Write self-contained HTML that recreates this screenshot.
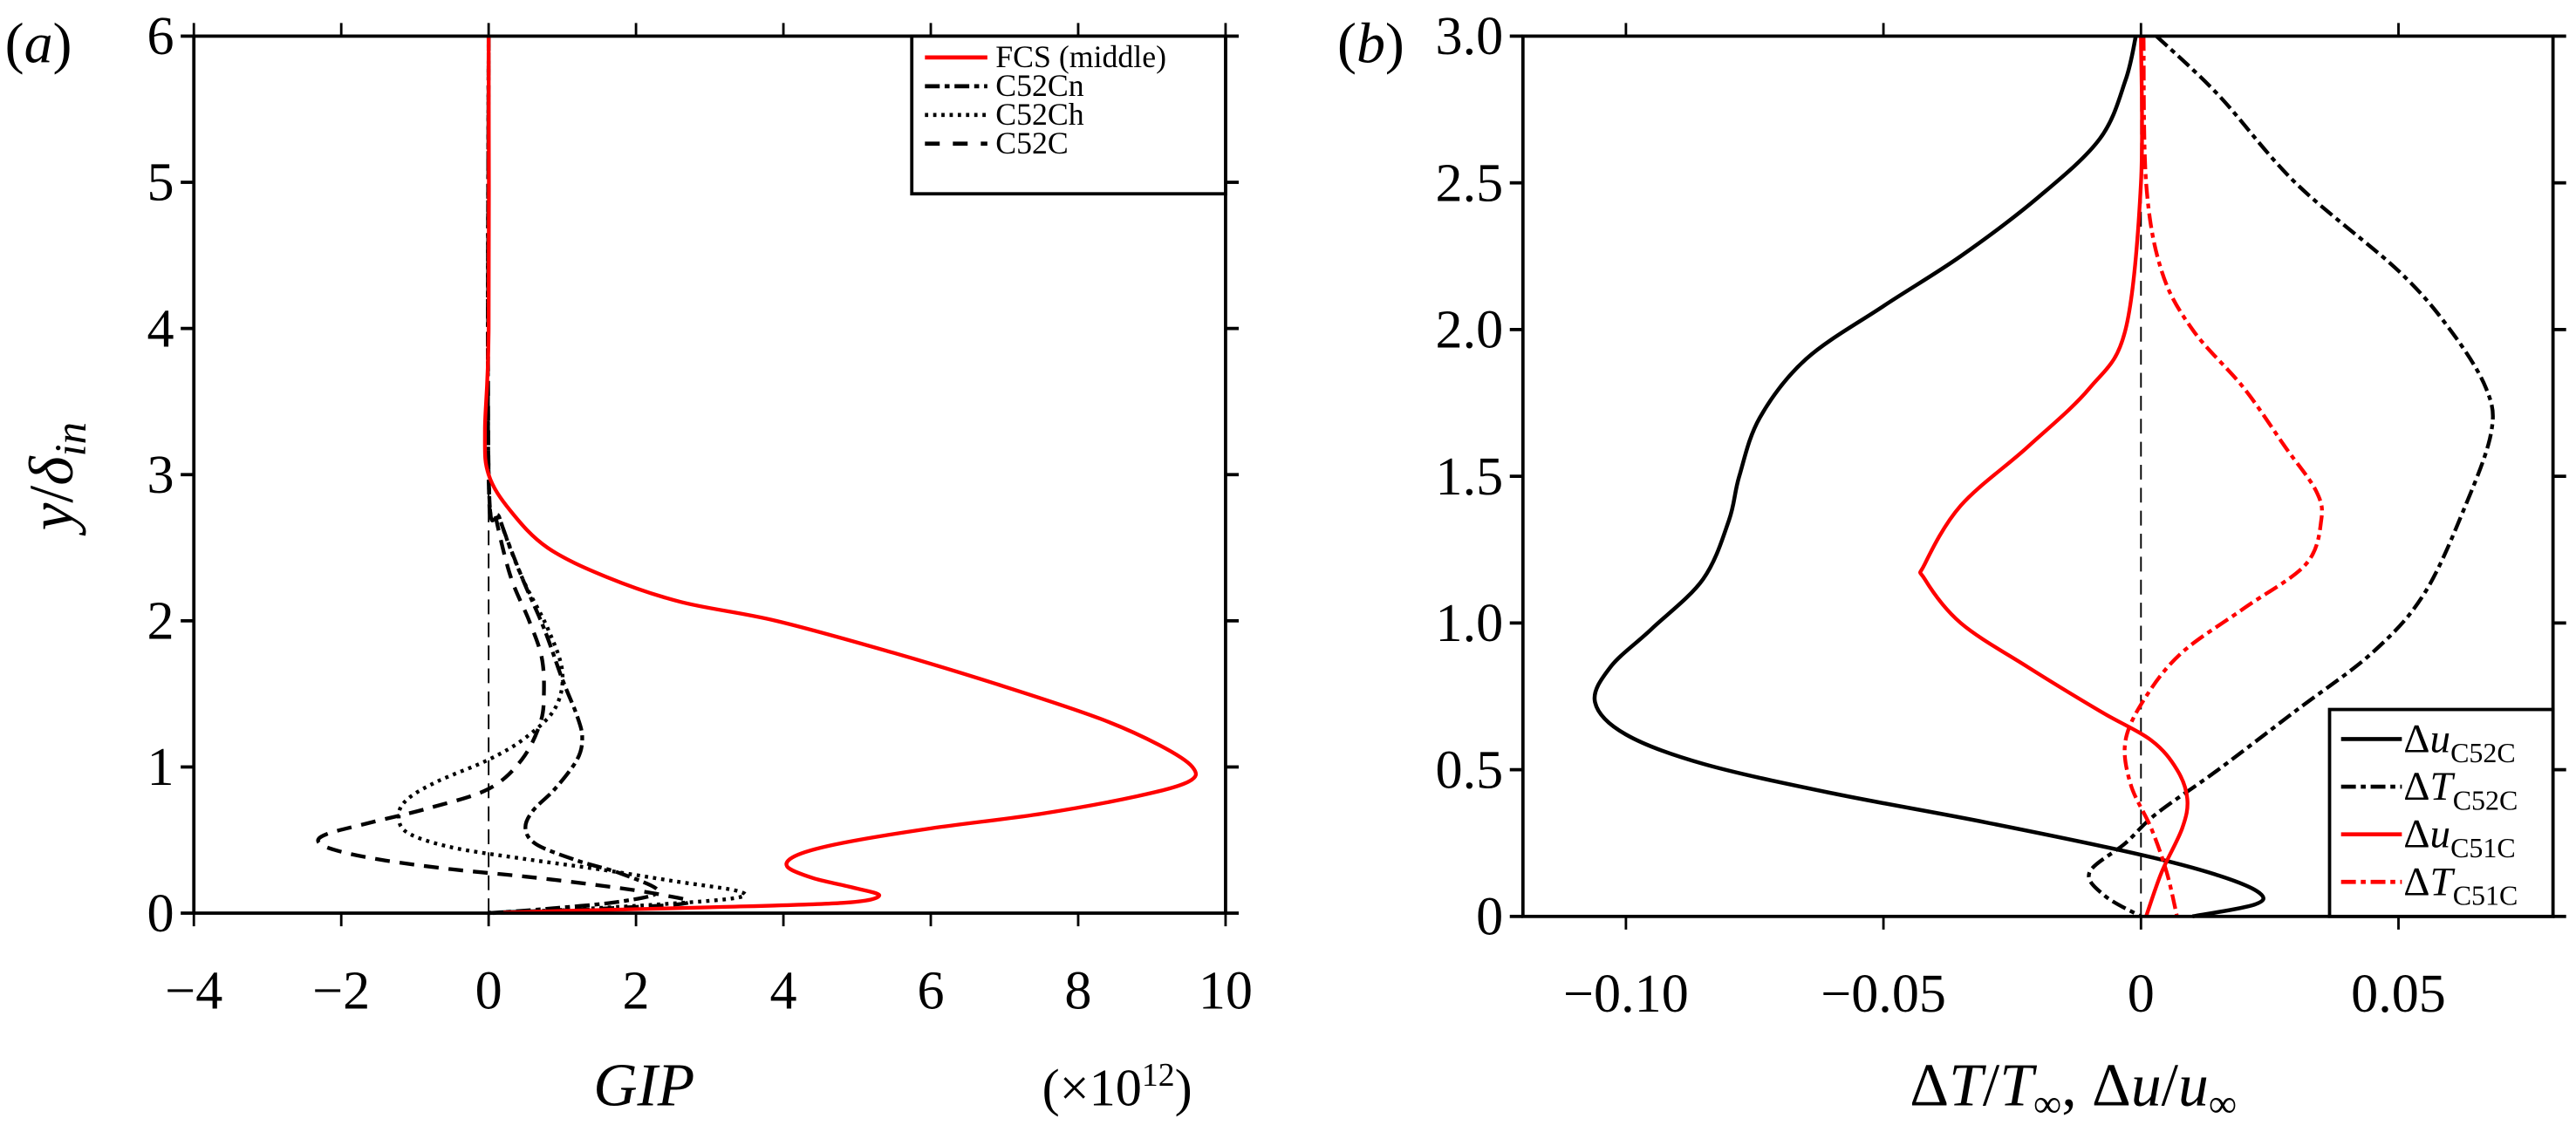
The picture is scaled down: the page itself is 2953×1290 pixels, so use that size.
<!DOCTYPE html>
<html><head><meta charset="utf-8"><style>
html,body{margin:0;padding:0;background:#fff;}
svg{display:block;}
text{font-family:"Liberation Serif",serif;fill:#000;}
</style></head><body>
<svg id="fig" width="2953" height="1290" viewBox="0 0 1568 685" preserveAspectRatio="none" xmlns="http://www.w3.org/2000/svg"></svg>
<script>
// ---------- Panel (a) data: GIP (x1e12) vs y/delta_in ----------
const aXTicks=[-4,-2,0,2,4,6,8,10];
const aYTicks=[0,1,2,3,4,5,6];
const fcsX=[0,0,-0.05,0,0.3,0.8,1.6,2.6,3.9,5.5,7.0,8.3,9.1,9.55,9.5,8.8,7.5,6.0,4.8,4.2,4.05,4.4,4.9,5.3,4.8,3.0,1.0,0.2];
const fcsY=[6,4,3.3,3.0,2.75,2.5,2.3,2.13,2.0,1.78,1.55,1.33,1.15,1.0,0.9,0.8,0.68,0.58,0.48,0.4,0.32,0.24,0.18,0.12,0.07,0.04,0.015,0.003];
const cnX=[0,0,0.15,0.45,0.75,1.0,1.2,1.27,1.2,0.9,0.6,0.5,0.65,1.2,1.8,2.3,1.8,0.8,0];
const cnY=[6,3,2.7,2.3,1.95,1.6,1.35,1.2,1.05,0.85,0.7,0.58,0.47,0.36,0.27,0.15,0.08,0.03,0];
const chX=[0,0,0.15,0.45,0.8,1.0,0.9,0.5,0,-0.7,-1.1,-1.22,-1.1,-0.5,0.5,1.5,2.5,3.39,3.3,2.0,0.5,0];
const chY=[6,3,2.7,2.3,1.95,1.65,1.4,1.2,1.05,0.9,0.78,0.67,0.55,0.45,0.37,0.3,0.22,0.15,0.1,0.05,0.01,0];
const cX=[0,0,0.1,0.3,0.55,0.72,0.75,0.7,0.45,0,-0.8,-1.6,-2.2,-2.3,-2.0,-1.4,-0.5,0.5,1.5,2.3,2.7,1.5,0];
const cY=[6,3,2.7,2.3,2.0,1.75,1.5,1.3,1.05,0.85,0.72,0.62,0.54,0.48,0.42,0.36,0.3,0.25,0.19,0.13,0.07,0.03,0.003];
// ---------- Panel (b) data ----------
const bXTicks=[-0.10,-0.05,0,0.05];
const bXTickLabels=["\u22120.10","\u22120.05","0","0.05"];
const bYTicks=[0,0.5,1.0,1.5,2.0,2.5,3.0];
const bYTickLabels=["0","0.5","1.0","1.5","2.0","2.5","3.0"];
const du52X=[-0.001,-0.003,-0.008,-0.02,-0.035,-0.05,-0.065,-0.074,-0.078,-0.08,-0.085,-0.095,-0.103,-0.106,-0.1,-0.085,-0.06,-0.03,0,0.015,0.023,0.022,0.01];
const du52Y=[3,2.85,2.65,2.45,2.25,2.08,1.9,1.7,1.5,1.35,1.15,0.98,0.85,0.73,0.62,0.52,0.42,0.32,0.21,0.14,0.08,0.04,0];
const dT52X=[0.003,0.015,0.03,0.05,0.06,0.067,0.068,0.063,0.055,0.045,0.03,0.015,0.003,-0.003,-0.01,-0.007,0];
const dT52Y=[3,2.8,2.5,2.2,2.0,1.8,1.65,1.4,1.1,0.9,0.7,0.5,0.35,0.25,0.15,0.07,0];
const du51X=[0,0,-0.003,-0.01,-0.022,-0.035,-0.042,-0.042,-0.035,-0.022,-0.008,0.002,0.007,0.009,0.008,0.004,0.001];
const du51Y=[3,2.5,2.0,1.8,1.6,1.4,1.2,1.15,1.0,0.85,0.7,0.6,0.5,0.4,0.3,0.15,0];
const dT51X=[0.0005,0.001,0.004,0.01,0.02,0.028,0.034,0.035,0.032,0.02,0.008,0.001,-0.003,-0.002,0.002,0.005,0.007];
const dT51Y=[3,2.5,2.2,2.0,1.8,1.6,1.45,1.35,1.2,1.05,0.9,0.75,0.6,0.45,0.3,0.15,0];

const NS="http://www.w3.org/2000/svg";
const svg=document.getElementById('fig');
function el(tag,attrs,parent){const e=document.createElementNS(NS,tag);for(const k in attrs)e.setAttribute(k,attrs[k]);(parent||svg).appendChild(e);return e;}
function lin(d0,d1,r0,r1){return v=>r0+(v-d0)/(d1-d0)*(r1-r0);}
function spline(xs,ys,sx,sy){
  const p=xs.map((x,i)=>[sx(x),sy(ys[i])]);
  let d=`M${p[0][0].toFixed(2)},${p[0][1].toFixed(2)}`;
  for(let i=0;i<p.length-1;i++){
    const p0=p[Math.max(i-1,0)],p1=p[i],p2=p[i+1],p3=p[Math.min(i+2,p.length-1)];
    const c1=[p1[0]+(p2[0]-p0[0])/6,p1[1]+(p2[1]-p0[1])/6];
    const c2=[p2[0]-(p3[0]-p1[0])/6,p2[1]-(p3[1]-p1[1])/6];
    d+=`C${c1[0].toFixed(2)},${c1[1].toFixed(2)} ${c2[0].toFixed(2)},${c2[1].toFixed(2)} ${p2[0].toFixed(2)},${p2[1].toFixed(2)}`;
  }
  return d;
}
function drawAxes(g,L,R,T,B,xt,sx,yt,sy,xl,yl){
  const box=el('rect',{x:L,y:T,width:R-L,height:B-T,fill:'none',stroke:'#000','stroke-width':2},g);
  
  
  xt.forEach((v,i)=>{
    const x=sx(v);
    const t1=el('line',{x1:x,y1:B,x2:x,y2:B+8,stroke:'#000','stroke-width':1.5},g);
    
    
    const t2=el('line',{x1:x,y1:T,x2:x,y2:T-8,stroke:'#000','stroke-width':1.5},g);
    
    
    const tx=el('text',{x:x,y:B+58,'font-size':33,'text-anchor':'middle'},g);
    tx.textContent=xl[i];
    
    
  });
  yt.forEach((v,i)=>{
    const y=sy(v);
    const t1=el('line',{x1:L,y1:y,x2:L-8,y2:y,stroke:'#000','stroke-width':2},g);
    
    
    const t2=el('line',{x1:R,y1:y,x2:R+8,y2:y,stroke:'#000','stroke-width':2},g);
    
    
    const tx=el('text',{x:L-12,y:y+11,'font-size':33,'text-anchor':'end'},g);
    tx.textContent=yl[i];
    
    
  });
}
function curve(g,xs,ys,sx,sy,color,dash,name,w){
  const p=el('path',{d:spline(xs,ys,sx,sy),fill:'none',stroke:color,'stroke-width':w||2.3,'stroke-dasharray':dash||'none','stroke-linejoin':'round'},g);
  
  
}

// ---------- Panel a ----------
const ga=el('g',{});


const aL=118,aR=746,aT=22,aB=556;
const axa=lin(-4,10,aL,aR), aya=lin(0,6,aB,aT);
const zl=el('line',{x1:axa(0),y1:aya(0),x2:axa(0),y2:aya(2.95),stroke:'#000','stroke-width':1,'stroke-dasharray':'9,5'},ga);


curve(ga,cX,cY,axa,aya,'#000','9,6','c52c-curve');
curve(ga,chX,chY,axa,aya,'#000','2,3','c52ch-curve');
curve(ga,cnX,cnY,axa,aya,'#000','9,3,3,3','c52cn-curve');
curve(ga,fcsX,fcsY,axa,aya,'#f00',null,'fcs-middle-curve');
drawAxes(ga,aL,aR,aT,aB,aXTicks,axa,aYTicks,aya,aXTicks.map(v=>v<0?'\u2212'+(-v):String(v)),aYTicks.map(String));
// legend a
const la=el('g',{},ga);


el('rect',{x:555,y:22,width:191,height:96,fill:'#fff',stroke:'#000','stroke-width':2},la);
const legA=[['FCS (middle)','#f00','none'],['C52Cn','#000','9,3,3,3'],['C52Ch','#000','2,3'],['C52C','#000','9,8']];
legA.forEach((e,i)=>{
  const y=35+i*17.5;
  const ln=el('line',{x1:563,y1:y,x2:601,y2:y,stroke:e[1],'stroke-width':2.5,'stroke-dasharray':e[2]},la);
  
  
  const t=el('text',{x:606,y:y+6,'font-size':19},la);
  t.textContent=e[0];
  
  
});
const ta=el('text',{x:3,y:38,'font-size':35},ga);
ta.innerHTML='(<tspan font-style="italic">a</tspan>)';


const yla=el('text',{x:0,y:0,'font-size':38,'text-anchor':'middle',transform:'translate(44,290) rotate(-90)'},ga);
yla.innerHTML='<tspan font-style="italic">y</tspan>/<tspan font-style="italic">δ</tspan><tspan font-style="italic" font-size="27" dy="8">in</tspan>';


const xla=el('text',{x:392,y:673,'font-size':37,'font-style':'italic','text-anchor':'middle'},ga);
xla.textContent='GIP';


const xsc=el('text',{x:680,y:673,'font-size':32,'text-anchor':'middle'},ga);
xsc.innerHTML='(×10<tspan font-size="20" dy="-12">12</tspan><tspan dy="12">)</tspan>';



// ---------- Panel b ----------
const gb=el('g',{});


const bL=927,bR=1554,bT=22,bB=558;
const bx=lin(-0.12,0.08,bL,bR), by=lin(0,3,bB,bT);
const zb=el('line',{x1:bx(0),y1:by(0),x2:bx(0),y2:by(3),stroke:'#000','stroke-width':1,'stroke-dasharray':'9,5'},gb);


curve(gb,du52X,du52Y,bx,by,'#000',null,'du-c52c-curve',2.4);
curve(gb,dT52X,dT52Y,bx,by,'#000','9,3,3,3','dT-c52c-curve');
curve(gb,du51X,du51Y,bx,by,'#f00',null,'du-c51c-curve');
curve(gb,dT51X,dT51Y,bx,by,'#f00','9,3,3,3','dT-c51c-curve');
drawAxes(gb,bL,bR,bT,bB,bXTicks,bx,bYTicks,by,bXTickLabels,bYTickLabels);
const lb=el('g',{},gb);


el('rect',{x:1418,y:432,width:136,height:126,fill:'#fff',stroke:'#000','stroke-width':2},lb);
const legB=[['u','C52C','#000','none'],['T','C52C','#000','9,3,3,3'],['u','C51C','#f00','none'],['T','C51C','#f00','9,3,3,3']];
legB.forEach((e,i)=>{
  const y=450+i*29;
  const ln=el('line',{x1:1425,y1:y,x2:1462,y2:y,stroke:e[2],'stroke-width':2.5,'stroke-dasharray':e[3]},lb);
  
  
  const t=el('text',{x:1463,y:y+8,'font-size':25},lb);
  t.innerHTML='Δ<tspan font-style="italic">'+e[0]+'</tspan><tspan font-size="17" dy="6">'+e[1]+'</tspan>';
  
  
});
const tb=el('text',{x:814,y:38,'font-size':35},gb);
tb.innerHTML='(<tspan font-style="italic">b</tspan>)';


const xlb=el('text',{x:1262,y:673,'font-size':37,'text-anchor':'middle'},gb);
xlb.innerHTML='Δ<tspan font-style="italic">T</tspan>/<tspan font-style="italic">T</tspan><tspan font-size="24" dy="7">∞</tspan><tspan dy="-7">, Δ</tspan><tspan font-style="italic">u</tspan>/<tspan font-style="italic">u</tspan><tspan font-size="24" dy="7">∞</tspan>';


</script>
</body></html>
